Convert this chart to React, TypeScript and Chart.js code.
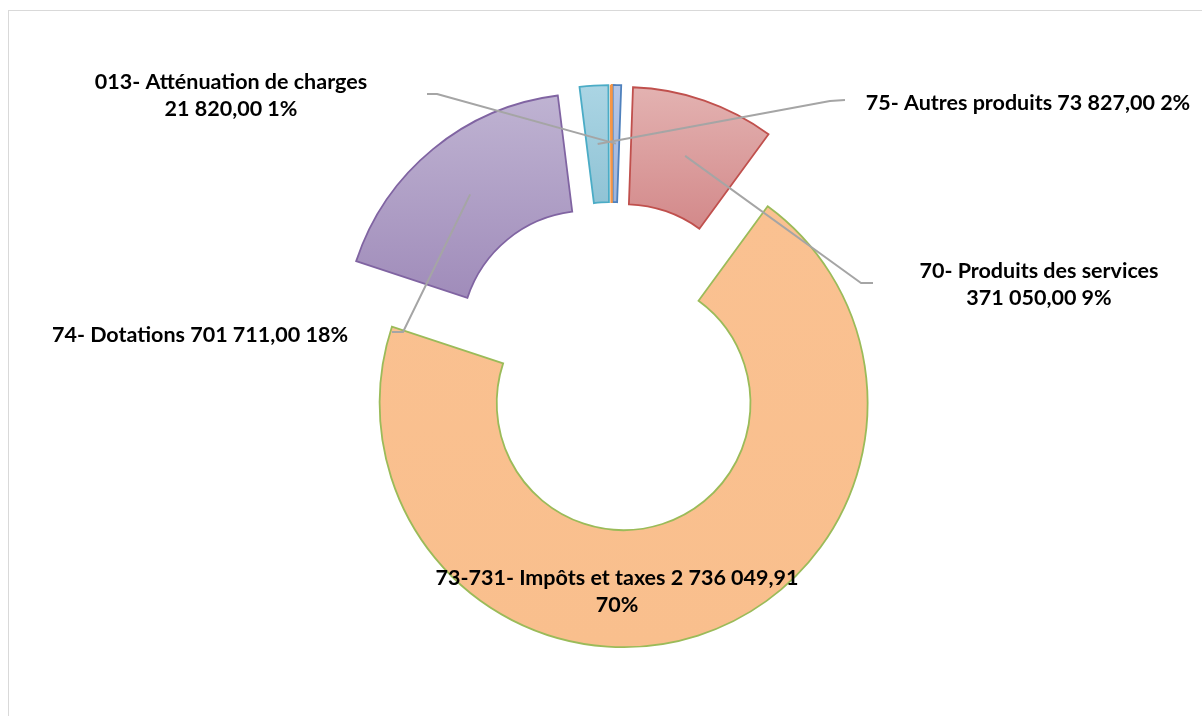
import React, { useEffect, useRef } from "react";
import { Chart, registerables } from "chart.js";

Chart.register(...registerables);

// ---- data ----
const categories = [
  "013- Atténuation de charges",
  "70- Produits des services",
  "73-731- Impôts et taxes",
  "74- Dotations",
  "75- Autres produits",
  "",
];
const values = [21820, 371050, 2736049.91, 701711, 73827, 3000];

// ---- styles ----
const borderColors = ["#4F81BD", "#C0504D", "#9BBB59", "#8064A2", "#4BACC6", "#F79646"];
const fillTop = ["#B5C7E7", "#E3B2B1", "#FAC191", "#BFB3D2", "#ABD5E4", "#FAC191"];
const fillBottom = ["#9FB4DB", "#D3898A", "#F9BF8D", "#A08CBA", "#90C3D5", "#F9BF8D"];
const EXPLODE_PX = 38;
const FONT = "bold 21.5px Lato, 'Open Sans', sans-serif";
const LINE_H = 27;

type LabelLayout = {
  mode: "two" | "one" | "inside";
  x: number;
  y: number;
  path: number[][];
};
// label positions (layout only) per data index
const labelLayout: (LabelLayout | null)[] = [
  { mode: "two", x: 231, y: 82, path: [[437, 94], [427, 94]] },
  { mode: "two", x: 1039, y: 271, path: [[861, 283], [873, 283]] },
  { mode: "inside", x: 617, y: 578, path: [] },
  { mode: "one", x: 200, y: 335, path: [[403, 332], [392, 332]] },
  { mode: "one", x: 1028, y: 103, path: [[830, 101], [845, 100]] },
  null,
];

function fmtNumber(v: number): string {
  const [intPart, dec] = v.toFixed(2).split(".");
  const grouped = intPart.replace(/\B(?=(\d{3})+(?!\d))/g, " ");
  return grouped + "," + dec;
}

const total = values.reduce((a, b) => a + b, 0);

// Excel-like explosion: translate every slice along its bisector
const explodePlugin = {
  id: "explode",
  afterDatasetUpdate(chart: any, args: any) {
    const meta = args.meta || chart.getDatasetMeta(args.index);
    meta.data.forEach((arc: any) => {
      const mid = (arc.startAngle + arc.endAngle) / 2;
      arc.x += Math.cos(mid) * EXPLODE_PX;
      arc.y += Math.sin(mid) * EXPLODE_PX;
    });
  },
};

const labelsPlugin = {
  id: "excelLabels",
  afterDatasetsDraw(chart: any) {
    const ctx = chart.ctx;
    const meta = chart.getDatasetMeta(0);
    ctx.save();
    meta.data.forEach((arc: any, i: number) => {
      const lay = labelLayout[i];
      if (!lay) return;
      const mid = (arc.startAngle + arc.endAngle) / 2;
      const r = (arc.innerRadius + arc.outerRadius) / 2;
      const ax = arc.x + Math.cos(mid) * r;
      const ay = arc.y + Math.sin(mid) * r;
      if (lay.path.length) {
        ctx.beginPath();
        ctx.moveTo(ax, ay);
        lay.path.forEach((p) => ctx.lineTo(p[0], p[1]));
        ctx.strokeStyle = "#A5A5A5";
        ctx.lineWidth = 2;
        ctx.lineJoin = "round";
        ctx.stroke();
      }
    });
    ctx.fillStyle = "#000000";
    ctx.font = FONT;
    ctx.textAlign = "center";
    ctx.textBaseline = "middle";
    meta.data.forEach((_arc: any, i: number) => {
      const lay = labelLayout[i];
      if (!lay) return;
      const name = categories[i];
      const val = fmtNumber(values[i]);
      const pct = Math.round((values[i] / total) * 100) + "%";
      let lines: string[];
      if (lay.mode === "two") lines = [name, `${val} ${pct}`];
      else if (lay.mode === "inside") lines = [`${name} ${val}`, pct];
      else lines = [`${name} ${val} ${pct}`];
      lines.forEach((ln, k) => ctx.fillText(ln, lay.x, lay.y + k * LINE_H));
    });
    ctx.restore();
  },
};

export default function App() {
  const canvasRef = useRef<HTMLCanvasElement | null>(null);

  useEffect(() => {
    const canvas = canvasRef.current;
    if (!canvas) return;
    const chart = new Chart(canvas, {
      type: "doughnut",
      data: {
        labels: categories,
        datasets: [
          {
            data: values,
            backgroundColor: fillBottom,
            borderColor: borderColors,
            borderWidth: 1.8,
            borderJoinStyle: "miter",
            offset: 0,
            hoverOffset: 0,
          } as any,
        ],
      },
      options: {
        responsive: false,
        animation: false,
        radius: 244,
        cutout: "52%",
        rotation: 0,
        layout: { padding: { left: 22, top: 18, right: 0, bottom: 0 } },
        plugins: {
          legend: { display: false },
          tooltip: { enabled: false },
        },
        events: [],
      } as any,
      plugins: [explodePlugin, labelsPlugin],
    });

    // per-slice vertical gradients (light top, darker bottom)
    const meta = chart.getDatasetMeta(0);
    const grads = meta.data.map((arc: any, i: number) => {
      let ymin = Infinity;
      let ymax = -Infinity;
      const n = 60;
      for (let k = 0; k <= n; k++) {
        const a = arc.startAngle + ((arc.endAngle - arc.startAngle) * k) / n;
        for (const r of [arc.innerRadius, arc.outerRadius]) {
          const y = arc.y + Math.sin(a) * r;
          ymin = Math.min(ymin, y);
          ymax = Math.max(ymax, y);
        }
      }
      if (!isFinite(ymin) || ymax - ymin < 1) return fillBottom[i];
      const g = chart.ctx.createLinearGradient(0, ymin, 0, ymax);
      g.addColorStop(0, fillTop[i]);
      g.addColorStop(1, fillBottom[i]);
      return g;
    });
    (chart.data.datasets[0] as any).backgroundColor = grads;
    chart.update();

    return () => chart.destroy();
  }, []);

  return (
    <>
      <div
        style={{
          position: "fixed",
          left: 8,
          top: 10,
          width: 1400,
          height: 900,
          border: "1px solid #D9D9D9",
          boxSizing: "border-box",
          pointerEvents: "none",
        }}
      />
      <canvas
        ref={canvasRef}
        width={1202}
        height={716}
        style={{ position: "fixed", left: 0, top: 0, width: 1202, height: 716 }}
      />
    </>
  );
}
